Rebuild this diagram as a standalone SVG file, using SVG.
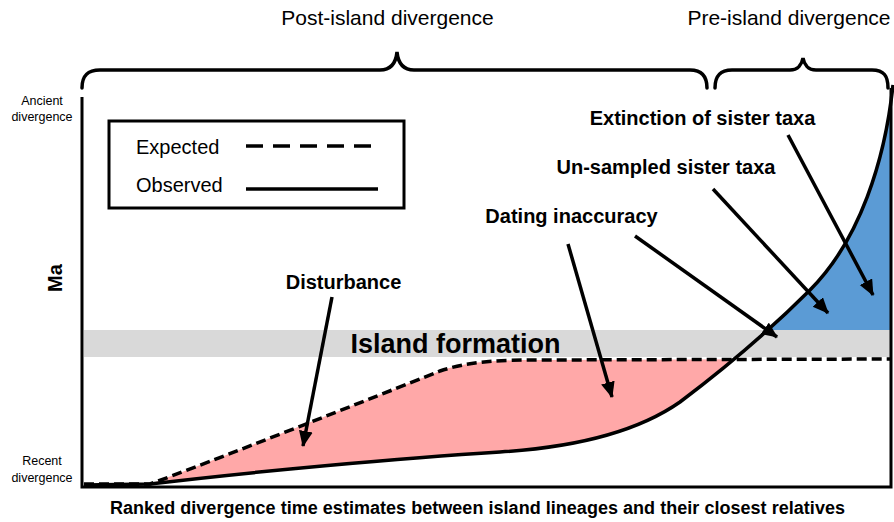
<svg xmlns="http://www.w3.org/2000/svg" width="894" height="522" viewBox="0 0 894 522">
<style>
text{font-family:"Liberation Sans",Arial,sans-serif;fill:#000}
.b{font-weight:bold}
.ln{fill:none;stroke:#000;stroke-width:3}
.arr{fill:none;stroke:#000;stroke-width:3.5;marker-end:url(#ah)}
.brace{fill:none;stroke:#000;stroke-width:3.5;stroke-linecap:round}
</style>
<defs>
<marker id="ah" markerUnits="userSpaceOnUse" markerWidth="17" markerHeight="15" refX="15" refY="7" orient="auto">
<path d="M0,0 L16,7 L0,14 Z" fill="#000"/>
</marker>
<clipPath id="aboveSolid"><path d="M84,485 L150,484 C250,472 400,458 500,452 C580,447 640,430 680,402 C720,372 770,330 810,290 C860,240 885,160 893,85 L893,0 L84,0 Z"/></clipPath>
<clipPath id="topBand"><rect x="0" y="0" width="891" height="330"/></clipPath>
</defs>
<rect id="band" x="84" y="330" width="807" height="27" fill="#d9d9d9"/>
<g id="pink-area"><path clip-path="url(#aboveSolid)" d="M150,484 C200,466 380,395 440,371 C470,361 500,360 540,360 L891,359 L891,490 L150,490 Z" fill="#ffa8a8"/></g>
<g id="blue-area"><path clip-path="url(#topBand)" d="M84,485 L150,484 C250,472 400,458 500,452 C580,447 640,430 680,402 C720,372 770,330 810,290 C860,240 885,160 893,85 L893,490 L84,490 Z" fill="#5b9bd5"/></g>
<g id="axes">
<path class="ln" d="M82,97 L82,487 L891,487 L891,88"/>
</g>
<g id="expected-curve"><path d="M84,484 L150,484 C200,466 380,395 440,371 C470,361 500,360 540,360 L891,359" fill="none" stroke="#000" stroke-width="3.5" stroke-dasharray="10 5"/></g>
<g id="observed-curve"><path d="M84,485 L150,484 C250,472 400,458 500,452 C580,447 640,430 680,402 C720,372 770,330 810,290 C860,240 885,160 893,85" fill="none" stroke="#000" stroke-width="3.5"/></g>
<g id="braces">
<path class="brace" d="M82,88 C82,75 88,70 100,70 L380,70 C392,70 396,62 397,52 C398,62 402,70 414,70 L690,70 C702,70 707,77 707,88"/>
<path class="brace" d="M715,88 C715,76 720,70 732,70 L790,70 C798,70 802,64 803,58 C804,64 808,70 816,70 L872,70 C884,70 888,76 888,88"/>
</g>
<g id="legend">
<rect x="109" y="121" width="295" height="87" fill="none" stroke="#000" stroke-width="3"/>
<text x="136" y="154" font-size="20">Expected</text>
<text x="136" y="192" font-size="20">Observed</text>
<line x1="246" y1="146" x2="372" y2="146" stroke="#000" stroke-width="3.5" stroke-dasharray="17 10"/>
<line x1="246" y1="189" x2="378" y2="189" stroke="#000" stroke-width="3.5"/>
</g>
<g id="connectors">
<line class="arr" x1="332" y1="297" x2="303" y2="446"/>
<line class="arr" x1="568" y1="244" x2="612" y2="397"/>
<line class="arr" x1="635" y1="236" x2="777" y2="337"/>
<line class="arr" x1="713" y1="189" x2="828" y2="313"/>
<line class="arr" x1="788" y1="135" x2="873" y2="295"/>
</g>
<g id="labels">
<text x="387.5" y="25" font-size="21" text-anchor="middle">Post-island divergence</text>
<text x="789" y="25" font-size="21" text-anchor="middle">Pre-island divergence</text>
<text x="42" y="105" font-size="12.5" text-anchor="middle">Ancient</text>
<text x="42" y="121" font-size="12.5" text-anchor="middle">divergence</text>
<text x="42" y="465" font-size="12.5" text-anchor="middle">Recent</text>
<text x="42" y="482" font-size="12.5" text-anchor="middle">divergence</text>
<text class="b" font-size="20" text-anchor="middle" transform="translate(62,278) rotate(-90)">Ma</text>
<text class="b" x="702.5" y="125" font-size="20" text-anchor="middle">Extinction of sister taxa</text>
<text class="b" x="666" y="174" font-size="20" text-anchor="middle">Un-sampled sister taxa</text>
<text class="b" x="571.5" y="223" font-size="20" text-anchor="middle">Dating inaccuracy</text>
<text class="b" x="343.5" y="289" font-size="20" text-anchor="middle">Disturbance</text>
<text class="b" x="455.5" y="353" font-size="27" text-anchor="middle">Island formation</text>
<text class="b" x="477.5" y="514" font-size="18" text-anchor="middle" textLength="735">Ranked divergence time estimates between island lineages and their closest relatives</text>
</g>
</svg>
